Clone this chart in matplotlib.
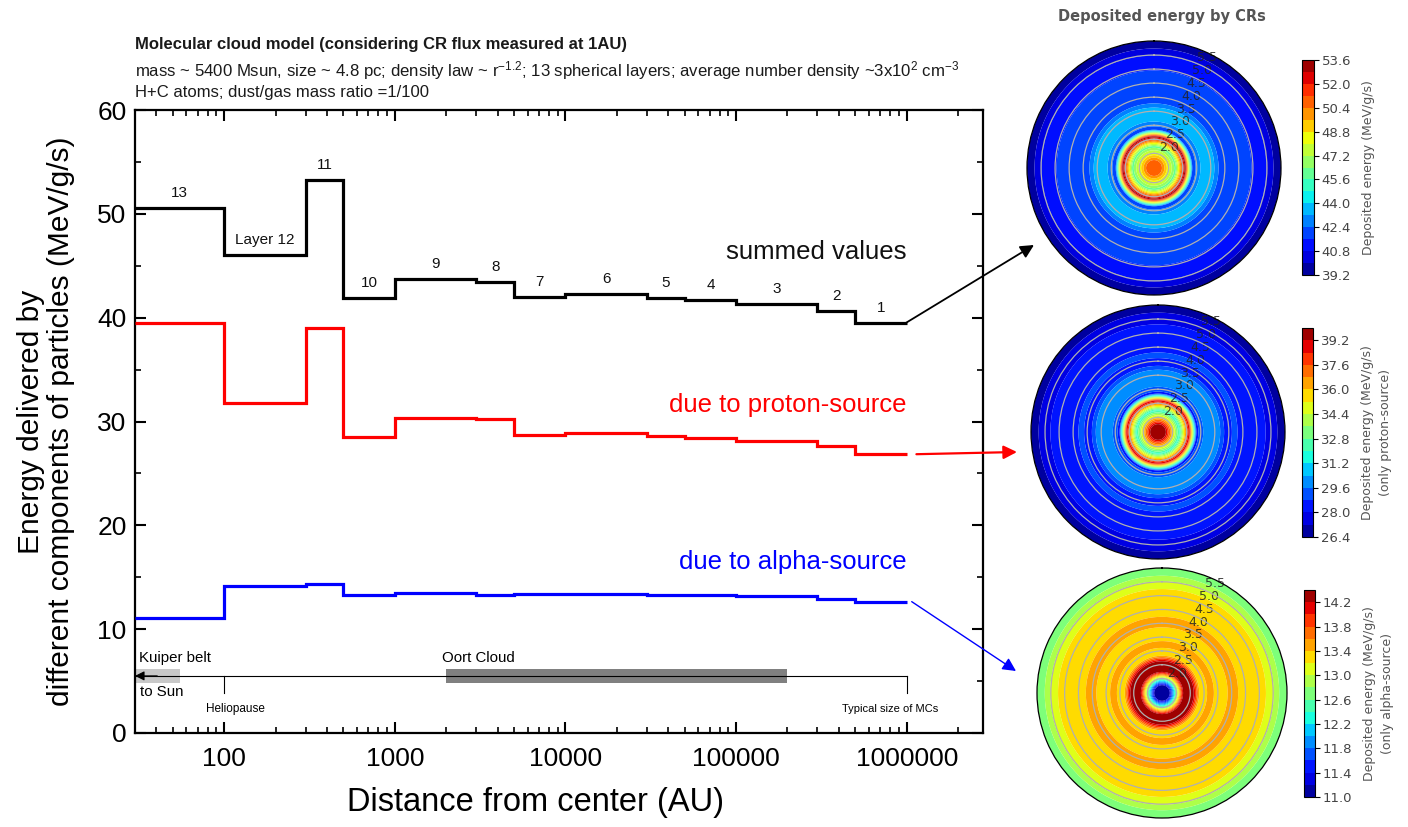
import numpy as np
import matplotlib
matplotlib.use('Agg')
import matplotlib.pyplot as plt
from matplotlib.ticker import LogLocator, MultipleLocator, FuncFormatter, FormatStrFormatter

# ---------------- data ----------------
edges = [30, 100, 300, 500, 1000, 3000, 5000, 10000, 30000, 50000, 1e5, 3e5, 5e5, 1e6]
layer_labels = ['13', 'Layer 12', '11', '10', '9', '8', '7', '6', '5', '4', '3', '2', '1']
summed = [50.6, 46.0, 53.3, 41.9, 43.7, 43.4, 42.0, 42.3, 41.9, 41.7, 41.3, 40.6, 39.5]
proton = [39.5, 31.8, 39.0, 28.5, 30.3, 30.2, 28.7, 28.85, 28.6, 28.4, 28.1, 27.6, 26.85]
alpha = [11.06, 14.2, 14.35, 13.3, 13.45, 13.3, 13.4, 13.4, 13.3, 13.3, 13.2, 12.95, 12.65]

xticks = [100, 1000, 10000, 100000, 1000000]
xtick_labels = ['100', '1000', '10000', '100000', '1000000']
yticks = [0, 10, 20, 30, 40, 50, 60]

kuiper = (30, 55)
oort = (2000, 2e5)
heliopause = 100
mc_size = 1e6

cb_sum_ticks = [39.2, 40.8, 42.4, 44.0, 45.6, 47.2, 48.8, 50.4, 52.0, 53.6]
cb_pro_ticks = [26.4, 28.0, 29.6, 31.2, 32.8, 34.4, 36.0, 37.6, 39.2]
cb_alp_ticks = [11.0, 11.4, 11.8, 12.2, 12.6, 13.0, 13.4, 13.8, 14.2]
lev_sum = (39.2, 54.0, 0.8)
lev_pro = (26.4, 40.0, 0.8)
lev_alp = (11.0, 14.4, 0.2)
ring_ticks = [2.0, 2.5, 3.0, 3.5, 4.0, 4.5, 5.0, 5.5]
r_outer = 6.0

# ---------------- style ----------------
plt.rcParams['font.family'] = ['Liberation Sans', 'DejaVu Sans']
plt.rcParams['mathtext.default'] = 'regular'

W, H = 1408, 827
fig = plt.figure(figsize=(W / 100, H / 100), dpi=100)

def fx(px):
    return px / W

def fy(py):
    return 1 - py / H

# ---------------- main axes ----------------
ax = fig.add_axes([fx(135), fy(733), fx(983) - fx(135), fy(110) - fy(733)])
ax.set_xscale('log')
ax.set_xlim(30, 2.8e6)
ax.set_ylim(0, 60)

ax.stairs(summed, edges, baseline=None, color='black', lw=2.3, zorder=3)
ax.stairs(proton, edges, baseline=None, color='#ff0000', lw=2.3, zorder=3)
ax.stairs(alpha, edges, baseline=None, color='#0000ff', lw=2.3, zorder=3)

# layer labels
for i, lab in enumerate(layer_labels):
    xc = np.sqrt(edges[i] * edges[i + 1])
    ax.text(xc, summed[i] + 1.45, lab, ha='center', va='center', fontsize=11, color='#111111')

ax.text(1e6 * 1.0, 46.3, 'summed values', ha='right', va='center', fontsize=18.5, color='#111111')
ax.text(1e6 * 1.0, 31.6, 'due to proton-source', ha='right', va='center', fontsize=18.5, color='#ff0000')
ax.text(1e6 * 1.0, 16.5, 'due to alpha-source', ha='right', va='center', fontsize=18.5, color='#0000ff')

# solar-system scale annotation
yline = 5.5
ax.fill_between(kuiper, 4.8, 6.2, color='#c8c8c8', lw=0, zorder=2)
ax.fill_between(oort, 4.8, 6.2, color='#808080', lw=0, zorder=2)
ax.plot([edges[0], mc_size], [yline, yline], color='black', lw=0.8, zorder=3)
ax.plot([heliopause, heliopause], [yline, 3.85], color='black', lw=0.8, zorder=3)
ax.plot([mc_size, mc_size], [yline, 3.85], color='black', lw=0.8, zorder=3)
ax.annotate('', xy=(edges[0], yline), xytext=(edges[0] * 1.35, yline),
            arrowprops=dict(arrowstyle='-|>', color='black', lw=0.8, mutation_scale=14,
                            shrinkA=0, shrinkB=0), zorder=4)
ax.text(31.8, 7.2, 'Kuiper belt', ha='left', va='center', fontsize=10.8)
ax.text(1890, 7.2, 'Oort Cloud', ha='left', va='center', fontsize=10.8)
ax.text(32, 3.95, 'to Sun', ha='left', va='center', fontsize=10.8)
ax.text(116, 2.3, 'Heliopause', ha='center', va='center', fontsize=8.5)
ax.text(8e5, 2.3, 'Typical size of MCs', ha='center', va='center', fontsize=8)

# ticks
ax.set_xticks(xticks)
ax.set_xticklabels(xtick_labels)
ax.xaxis.set_minor_locator(LogLocator(base=10, subs=np.arange(2, 10), numticks=20))
ax.xaxis.set_minor_formatter(FuncFormatter(lambda v, p: ''))
ax.set_yticks(yticks)
ax.yaxis.set_minor_locator(MultipleLocator(5))
ax.tick_params(which='both', direction='in', top=True, right=True, labelsize=19)
ax.tick_params(which='major', length=8, width=1.5)
ax.tick_params(which='minor', length=4.5, width=1.2)
ax.tick_params(axis='x', pad=10)
ax.tick_params(axis='y', pad=6)
for s in ax.spines.values():
    s.set_linewidth(1.6)

xl = ax.set_xlabel('Distance from center (AU)', fontsize=23.5)
ax.xaxis.set_label_coords(0.472, -0.111)
xl.set_va('center')
yl = ax.set_ylabel('Energy delivered by\ndifferent components of particles (MeV/g/s)',
                   fontsize=21.5, linespacing=1.07)
ax.yaxis.set_label_coords(-0.105, 0.5)
yl.set_va('center')

# header
fig.text(fx(135), fy(45), 'Molecular cloud model (considering CR flux measured at 1AU)',
         fontsize=12, fontweight='bold', ha='left', va='center', color='#1a1a1a')
fig.text(fx(135), fy(71),
         'mass ~ 5400 Msun, size ~ 4.8 pc; density law ~ r$^{-1.2}$; 13 spherical layers; '
         'average number density ~3x10$^{2}$ cm$^{-3}$',
         fontsize=12.1, ha='left', va='center', color='#1a1a1a')
fig.text(fx(135), fy(92), 'H+C atoms; dust/gas mass ratio =1/100',
         fontsize=12, ha='left', va='center', color='#1a1a1a')

# connecting arrows
arrow_specs = [
    (summed, 'black', 1.3, (1034, 245), 0.99),
    (proton, '#ff0000', 1.6, (1017, 452), 1.14),
    (alpha, '#0000ff', 1.0, (1016, 671), 1.07),
]
for vals, col, lw, (tx, ty), f in arrow_specs:
    ax.annotate('', xy=(fx(tx), fy(ty)), xycoords='figure fraction',
                xytext=(edges[-1] * f, vals[-1]), textcoords='data',
                arrowprops=dict(arrowstyle='-|>', color=col, lw=lw, mutation_scale=20,
                                shrinkA=0, shrinkB=0),
                annotation_clip=False)

# ---------------- polar panels ----------------
logr_edges = np.log10(edges)
mids = 0.5 * (logr_edges[:-1] + logr_edges[1:])
rr = np.linspace(logr_edges[0], r_outer, 500)
th = np.linspace(0, 2 * np.pi, 361)
R, TH = np.meshgrid(rr, th)

fig.text(fx(1162), fy(17), 'Deposited energy by CRs', fontweight='bold', color='#555555',
         fontsize=10.5, family='DejaVu Sans', ha='center', va='center')

panels = [
    (summed, lev_sum, cb_sum_ticks, (1027, 41, 254), (1302, 60, 12, 215),
     'Deposited energy (MeV/g/s)'),
    (proton, lev_pro, cb_pro_ticks, (1031, 305, 254), (1302, 328, 11, 209),
     'Deposited energy (MeV/g/s)\n(only proton-source)'),
    (alpha, lev_alp, cb_alp_ticks, (1037, 568, 250), (1304, 590, 11, 207),
     'Deposited energy (MeV/g/s)\n(only alpha-source)'),
]
for vals, (lo, hi, st), cticks, (px, py, ps), (cx, cy, cw, ch), clabel in panels:
    pax = fig.add_axes([fx(px), fy(py + ps), ps / W, ps / H], projection='polar')
    Z = np.interp(R, mids, vals)
    levels = np.arange(lo, hi + st / 2, st)
    cs = pax.contourf(TH, R, Z, levels=levels, cmap='jet', antialiased=True)
    pax.set_ylim(logr_edges[0], r_outer)
    pax.set_theta_zero_location('N')
    pax.set_theta_direction(-1)
    pax.set_xticks([])
    pax.set_yticks(ring_ticks)
    pax.yaxis.set_major_formatter(FormatStrFormatter('%.1f'))
    pax.set_rlabel_position(22.5)
    pax.tick_params(axis='y', labelsize=9, labelcolor='#222222')
    for t in pax.get_yticklabels():
        t.set_family('DejaVu Sans')
        t.set_alpha(0.85)
    pax.grid(True, color='#b0b0b0', lw=0.9)
    pax.spines['polar'].set_linewidth(0.9)

    cax = fig.add_axes([fx(cx), fy(cy + ch), cw / W, ch / H])
    cb = fig.colorbar(cs, cax=cax, ticks=cticks)
    cb.ax.yaxis.set_major_formatter(FormatStrFormatter('%.1f'))
    cb.ax.tick_params(labelsize=9.5, labelcolor='#444444', length=3.5, width=0.8, pad=2)
    for t in cb.ax.get_yticklabels():
        t.set_family('DejaVu Sans')
    cb.outline.set_linewidth(0.8)
    cb.set_label(clabel, fontsize=9, color='#555555', family='DejaVu Sans', labelpad=8,
                 linespacing=1.5)

fig.savefig('out.png', dpi=100)
